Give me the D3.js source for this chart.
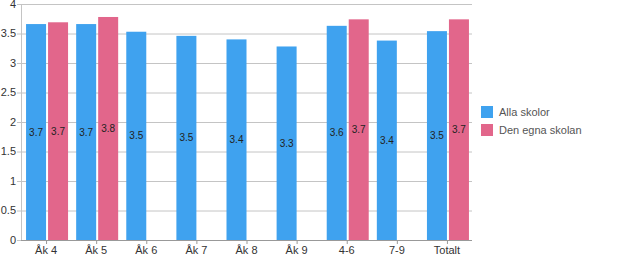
<!DOCTYPE html>
<html>
<head>
<meta charset="utf-8">
<script src="https://cdn.jsdelivr.net/npm/d3@7"></script>
<style>
body { margin: 0; background: #fff; }
svg { display: block; font-family: "Liberation Sans", Arial, sans-serif; }
</style>
</head>
<body>
<div id="chart"></div>
<script>
var categories = ["Åk 4", "Åk 5", "Åk 6", "Åk 7", "Åk 8", "Åk 9", "4-6", "7-9", "Totalt"];
var series = ["Alla skolor", "Den egna skolan"];
var allaSkolor = [3.66, 3.66, 3.53, 3.46, 3.40, 3.28, 3.63, 3.38, 3.54];
var egnaSkolan = [3.69, 3.78, null, null, null, null, 3.74, null, 3.74];
var colors = ["#3fa2ef", "#e2668b"];
var yTicks = [0, 0.5, 1, 1.5, 2, 2.5, 3, 3.5, 4];

var width = 620, height = 260;
var margin = {left: 21, right: 148, top: 4, bottom: 20};
var plotW = width - margin.left - margin.right;
var plotH = height - margin.top - margin.bottom;

var svg = d3.select("#chart")
	.append("svg")
	.attr("width", width)
	.attr("height", height);

var g = svg.append("g").attr("transform", "translate(" + margin.left + "," + margin.top + ")");

var x = d3.scaleBand().domain(categories).range([0, plotW]).paddingInner(0).paddingOuter(0);
var y = d3.scaleLinear().domain([0, 4]).range([plotH, 0]);

// grid lines
g.selectAll(".grid")
	.data(yTicks)
	.join("line")
	.attr("x1", -4)
	.attr("x2", plotW)
	.attr("y1", d => y(d) + 0.5)
	.attr("y2", d => y(d) + 0.5)
	.attr("stroke", "#c4c4c4")
	.attr("stroke-width", 1);

// y labels
g.selectAll(".ylab")
	.data(yTicks)
	.join("text")
	.attr("x", -5)
	.attr("y", d => y(d))
	.attr("dy", "0.35em")
	.attr("text-anchor", "end")
	.attr("font-size", 11)
	.attr("fill", "#333")
	.text(d => d);

var barW = 20, gap = 2;
var rows = categories.map((c, i) => ({cat: c, vals: [allaSkolor[i], egnaSkolan[i]]}));

var groups = g.selectAll(".grp")
	.data(rows)
	.join("g")
	.attr("transform", d => "translate(" + (x(d.cat) + x.bandwidth() / 2) + ",0)");

function barX(k) { return k == 0 ? -barW - gap / 2 + 1 : gap / 2 + 1; }

groups.each(function(d) {
	var sel = d3.select(this);
	d.vals.forEach(function(v, k) {
		if (v == null) return;
		sel.append("rect")
			.attr("x", barX(k))
			.attr("y", y(v))
			.attr("width", barW)
			.attr("height", y(0) - y(v))
			.attr("fill", colors[k]);
		sel.append("text")
			.attr("x", barX(k) + barW / 2)
			.attr("y", (y(v) + y(0)) / 2)
			.attr("dy", "0.35em")
			.attr("text-anchor", "middle")
			.attr("font-size", 10)
			.attr("fill", "#222")
			.text(v.toFixed(1));
	});
});

// axes lines
g.append("line")
	.attr("x1", 0.5).attr("x2", 0.5)
	.attr("y1", 0).attr("y2", plotH)
	.attr("stroke", "#c4c4c4");
g.append("line")
	.attr("x1", 0).attr("x2", plotW)
	.attr("y1", plotH + 0.5).attr("y2", plotH + 0.5)
	.attr("stroke", "#999");

// x ticks and labels
g.selectAll(".xt")
	.data(categories)
	.join("line")
	.attr("x1", d => x(d) + x.bandwidth() / 2 + 0.5)
	.attr("x2", d => x(d) + x.bandwidth() / 2 + 0.5)
	.attr("y1", plotH)
	.attr("y2", plotH + 4)
	.attr("stroke", "#999");

g.selectAll(".xlab")
	.data(categories)
	.join("text")
	.attr("x", d => x(d) + x.bandwidth() / 2)
	.attr("y", plotH + 14)
	.attr("text-anchor", "middle")
	.attr("font-size", 11)
	.attr("fill", "#333")
	.text(d => d);

// legend
var legend = svg.append("g").attr("transform", "translate(481,106)");
series.forEach(function(s, i) {
	legend.append("rect")
		.attr("x", 0)
		.attr("y", i * 18)
		.attr("width", 12)
		.attr("height", 12)
		.attr("fill", colors[i]);
	legend.append("text")
		.attr("x", 18)
		.attr("y", i * 18 + 6)
		.attr("dy", "0.35em")
		.attr("font-size", 11)
		.attr("fill", "#555")
		.text(s);
});
</script>
</body>
</html>
